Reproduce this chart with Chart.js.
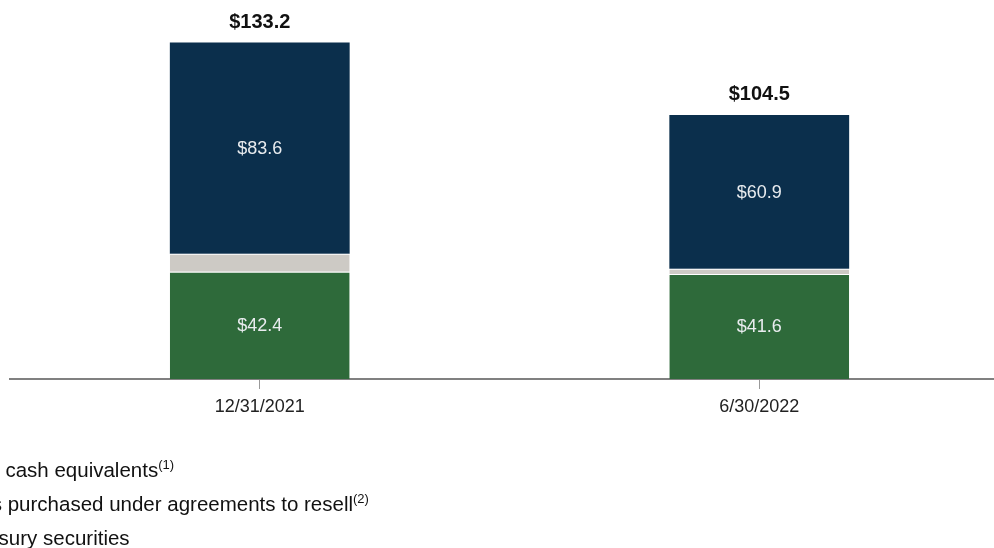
<!DOCTYPE html>
<html>
<head>
<meta charset="utf-8">
<script src="https://cdn.jsdelivr.net/npm/chart.js@4/dist/chart.umd.min.js"></script>
<style>
  html, body { margin: 0; padding: 0; background: #fff; overflow: hidden; width: 994px; height: 548px; }
  #wrap { position: absolute; left: 0; top: 0; width: 1009px; height: 548px; }
  .legend { position: absolute; left: -88px; font-family: "Liberation Sans", Arial, sans-serif; font-size: 20.5px; line-height: 20px; color: #111; white-space: nowrap; }
  .legend span.sw { position: absolute; left: -28px; top: 3px; width: 15px; height: 15px; }
  .legend sup { font-size: 13px; vertical-align: 8px; line-height: 0; }
</style>
</head>
<body>
<div id="wrap"><canvas id="barChart" width="1009" height="548"></canvas></div>
<div class="legend" style="top:460px"><span class="sw" style="background:#2e6a3a"></span>Cash and cash equivalents<sup>(1)</sup></div>
<div class="legend" style="top:494px"><span class="sw" style="background:#cdcac5"></span>Securities purchased under agreements to resell<sup>(2)</sup></div>
<div class="legend" style="top:528px"><span class="sw" style="background:#0b2f4c"></span>U.S. Treasury securities</div>
<script>
var categories = ['12/31/2021', '6/30/2022'];
var cashValues = [42.4, 41.6];
var resaleValues = [7.2, 2.0];
var treasuryValues = [83.6, 60.9];
var totals = [133.2, 104.5];

// labels inside the segments and totals above the bars
var labelPlugin = {
    id: 'labels',
    afterDatasetsDraw: function(chart) {
        var ctx = chart.ctx;
        ctx.save();
        ctx.textAlign = 'center';
        ctx.textBaseline = 'middle';
        [0, 2].forEach(function(di) {
            var meta = chart.getDatasetMeta(di);
            var vals = chart.data.datasets[di].data;
            meta.data.forEach(function(bar, j) {
                ctx.fillStyle = '#e9ecef';
                ctx.font = '18px "Liberation Sans", Arial, sans-serif';
                ctx.fillText('$' + vals[j].toFixed(1), bar.x, (bar.y + bar.base) / 2 + 1);
            });
        });
        var top = chart.getDatasetMeta(2);
        top.data.forEach(function(bar, j) {
            ctx.fillStyle = '#111';
            ctx.font = 'bold 20px "Liberation Sans", Arial, sans-serif';
            ctx.fillText('$' + totals[j].toFixed(1), bar.x, bar.y - 20);
        });
        ctx.restore();
    }
};

var ctx = document.getElementById('barChart').getContext('2d');
var chart = new Chart(ctx, {
    type: 'bar',
    data: {
        labels: categories,
        datasets: [{
            label: 'Cash and cash equivalents',
            data: cashValues,
            backgroundColor: '#2e6a3a',
            borderColor: '#ffffff',
            borderWidth: {top: 1}
        }, {
            label: 'Securities purchased under agreements to resell',
            data: resaleValues,
            backgroundColor: '#cdcac5',
            borderColor: '#ffffff',
            borderWidth: {top: 1}
        }, {
            label: 'U.S. Treasury securities',
            data: treasuryValues,
            backgroundColor: '#0b2f4c'
        }]
    },
    options: {
        responsive: false,
        animation: false,
        barPercentage: 0.36,
        categoryPercentage: 1,
        layout: { padding: { left: 10, right: 0, top: 0, bottom: 0 } },
        plugins: {
            legend: { display: false },
            tooltip: { enabled: false }
        },
        scales: {
            x: {
                stacked: true,
                border: { display: true, color: '#808080', width: 2 },
                grid: { display: true, offset: false, drawOnChartArea: false, drawTicks: true, tickLength: 10, color: '#999' },
                ticks: { color: '#222', padding: 7, font: { size: 18, family: '"Liberation Sans", Arial, sans-serif' } },
                afterFit: function(scale) { scale.height = 169; }
            },
            y: {
                stacked: true,
                display: false,
                min: 0,
                max: 150
            }
        }
    },
    plugins: [labelPlugin]
});
</script>
</body>
</html>
